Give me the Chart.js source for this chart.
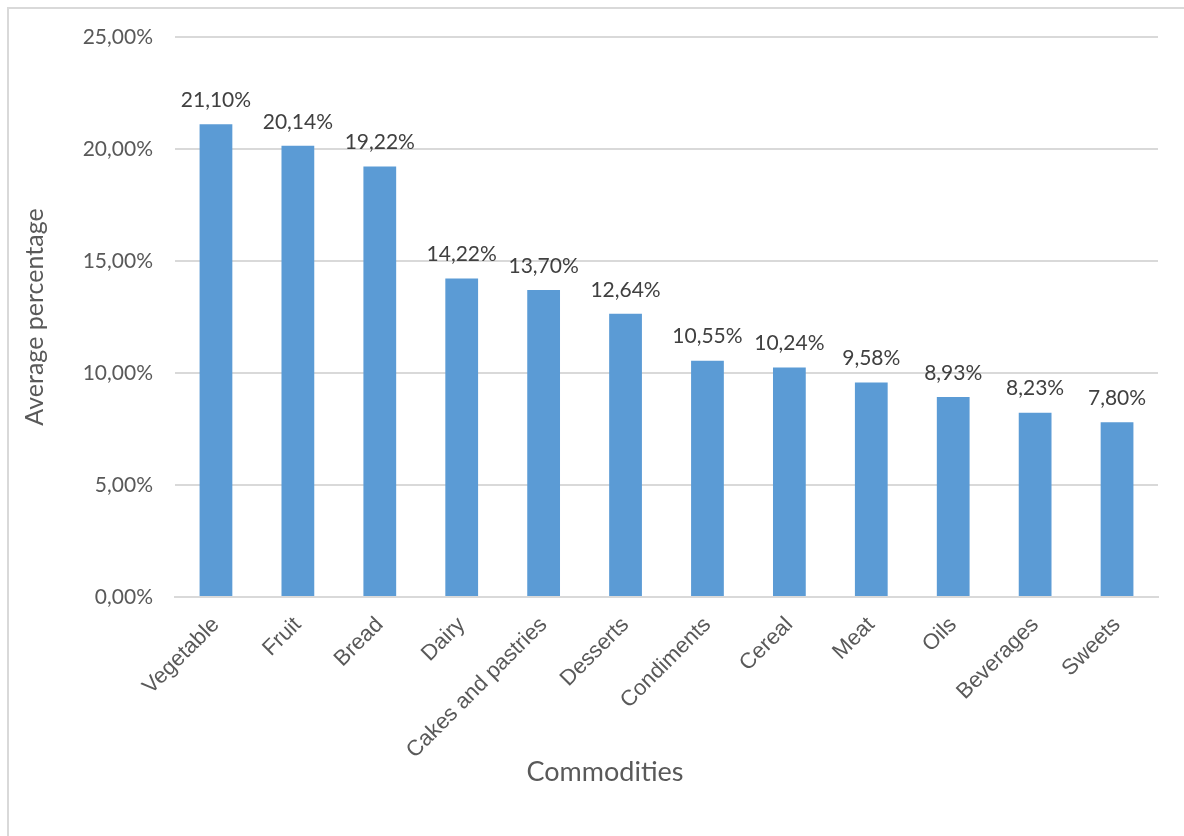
<!DOCTYPE html>
<html>
<head>
<meta charset="utf-8">
<script src="https://cdn.jsdelivr.net/npm/chart.js@4"></script>
<style>
html,body{margin:0;padding:0;background:#fff;}
#wrap{width:1184px;height:836px;position:relative;}
</style>
</head>
<body>
<div id="wrap"><canvas id="c" width="1184" height="836"></canvas></div>
<script>
const categories = ["Vegetable","Fruit","Bread","Dairy","Cakes and pastries","Desserts","Condiments","Cereal","Meat","Oils","Beverages","Sweets"];
const values = [21.10,20.14,19.22,14.22,13.70,12.64,10.55,10.24,9.58,8.93,8.23,7.80];
const yTicks = [0,5,10,15,20,25];
const xTitle = 'Commodities';
const yTitle = 'Average percentage';

const fmt = v => v.toFixed(2).replace('.', ',') + '%';

const frame = {
  id: 'frame',
  beforeDraw(chart) {
    const ctx = chart.ctx;
    ctx.save();
    ctx.fillStyle = '#fff';
    ctx.fillRect(0,0,chart.width,chart.height);
    ctx.fillStyle = '#d9d9d9';
    ctx.fillRect(7,7,chart.width-7,2);
    ctx.fillRect(7,7,2,chart.height-7);
    ctx.restore();
  },
  afterDraw(chart) {
    const ctx = chart.ctx;
    ctx.save();
    ctx.font = '27px Lato';
    ctx.fillStyle = '#595959';
    ctx.textAlign = 'center';
    ctx.textBaseline = 'middle';
    ctx.fillText(xTitle, 605, 772);
    ctx.restore();
  }
};

const labels = {
  id: 'labels',
  afterDatasetsDraw(chart) {
    const ctx = chart.ctx;
    const meta = chart.getDatasetMeta(0);
    ctx.save();
    ctx.font = '21px Lato';
    ctx.fillStyle = '#404040';
    ctx.textAlign = 'center';
    ctx.textBaseline = 'middle';
    meta.data.forEach((bar, i) => {
      ctx.fillText(fmt(values[i]), bar.x, bar.y - 24);
    });
    ctx.restore();
  }
};

new Chart(document.getElementById('c'), {
  type: 'bar',
  data: {
    labels: categories,
    datasets: [{
      data: values,
      backgroundColor: '#5B9BD5',
      borderWidth: 0,
      categoryPercentage: 1,
      barPercentage: 0.4
    }]
  },
  options: {
    responsive: false,
    animation: false,
    devicePixelRatio: 1,
    layout: { padding: { left: 16, top: 37, right: 26, bottom: 0 } },
    plugins: { legend: { display: false }, tooltip: { enabled: false } },
    scales: {
      x: {
        grid: { display: false, drawTicks: false },
        border: { display: true, color: '#d9d9d9', width: 2 },
        ticks: {
          color: '#595959',
          font: { family: 'Liberation Sans', size: 22 },
          minRotation: 45, maxRotation: 45,
          padding: 15,
          autoSkip: false
        },
        title: { display: false },
        afterFit: s => { s.height = 836 - 597; }
      },
      y: {
        min: 0, max: 25,
        afterBuildTicks: s => { s.ticks = yTicks.map(v => ({ value: v })); },
        grid: { color: '#d9d9d9', lineWidth: 2, drawTicks: false },
        border: { display: false },
        ticks: {
          color: '#595959',
          font: { family: 'Lato', size: 21 },
          padding: 22,
          callback: v => fmt(v)
        },
        title: {
          display: true, text: yTitle, color: '#595959',
          font: { family: 'Lato', size: 25 },
          padding: { top: 4, bottom: 0 }
        },
        afterFit: s => { s.width = 175 - 16; }
      }
    }
  },
  plugins: [frame, labels]
});
</script>
</body>
</html>
